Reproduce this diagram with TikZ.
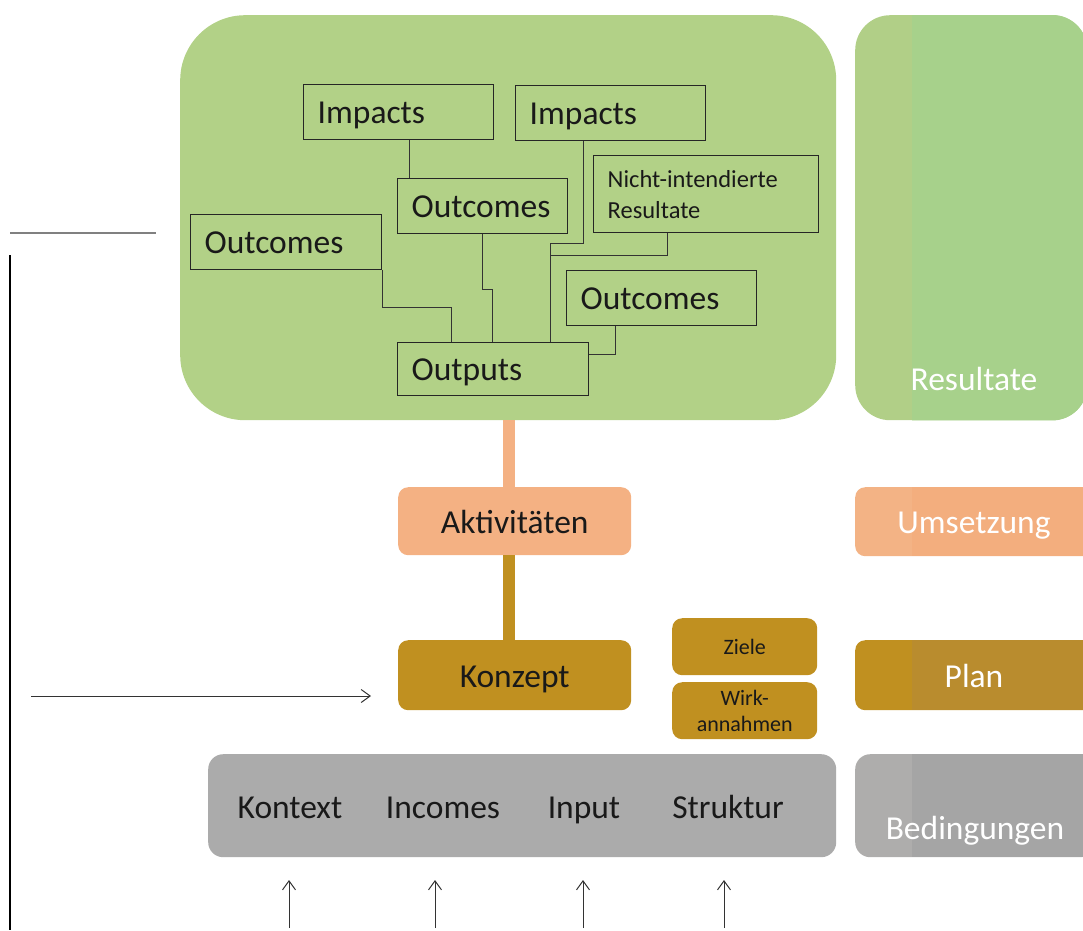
\documentclass[tikz,border=0pt]{standalone}
\usepackage{fontspec}
\setmainfont{Carlito}
\usetikzlibrary{arrows.meta}

\definecolor{gruen}{HTML}{B2D187}
\definecolor{gruenR}{HTML}{A7D18B}
\definecolor{gruenS}{HTML}{B1CF87}
\definecolor{orange}{HTML}{F4B183}
\definecolor{orangeR}{HTML}{F3AE7E}
\definecolor{orangeS}{HTML}{F3B385}
\definecolor{braun}{HTML}{C09020}
\definecolor{braunR}{HTML}{B98C2E}
\definecolor{grau}{HTML}{ABABAB}
\definecolor{grauR}{HTML}{A5A5A5}
\definecolor{grauS}{HTML}{AEADAC}

\begin{document}
\begin{tikzpicture}
        [x=1pt, y=-1pt,
        every node/.style={font=\fontsize{33.5}{40}\selectfont, text=black!90},
        box/.style={draw=black!85, line width=1.4pt, anchor=north west, text width=#1,
          inner xsep=14pt, inner ysep=0pt, align=left, minimum height=55pt,
          text height=26pt, text depth=3pt},
        block/.style={rounded corners=10pt, anchor=north west, inner sep=0pt},
        bigtext/.style={text height=26pt, text depth=2pt},
        small/.style={font=\fontsize{22}{26}\selectfont, align=center},
        lbl/.style={anchor=base},
        white lbl/.style={anchor=base, text=white},
        link/.style={draw=black!80, line width=1pt},
        bar/.style={line width=12pt},
        >={Straight Barb[length=9pt,width=13pt]}]

    \useasboundingbox (0,0) rectangle (1083,930);
    \clip (0,0) rectangle (1083,930);

    % linke Spalte
    \begin{scope}
      \node[block, rounded corners=65pt, fill=gruen, minimum width=656pt,
        minimum height=405pt] (wirk) at (180,15) {};

      \node[box=162pt] (imp1) at (303,84) {Impacts};
      \node[box=162pt] (imp2) at (515,85) {Impacts};
      \node[box=142pt] (ocm) at (397,178) {Outcomes};
      \node[box=197pt, minimum height=77pt, text height=, text depth=,
        font=\fontsize{24.5}{31}\selectfont]
        (nir) at (593,155) {Nicht-intendierte\\Resultate};
      \node[box=163pt] (ocl) at (190,214) {Outcomes};
      \node[box=162pt] (ocr) at (566,270) {Outcomes};
      \node[box=163pt, minimum height=53pt] (out) at (397,342) {Outputs};

      \draw[link] ([xshift=106pt]imp1.south west) -- ([xshift=12pt]ocm.north west);
      \draw[link] ([xshift=85pt]ocm.south west) -- ++(0,55) -| ([xshift=95pt]out.north west);
      \draw[link] (ocl.south east) -- ++(0,37) -| ([xshift=54pt]out.north west);
      \draw[link] ([xshift=68pt]imp2.south west) -- ++(0,102) -| ([xshift=153pt]out.north west);
      \draw[link] ([xshift=74pt]nir.south west) -- ++(0,22) -| ([xshift=153pt]out.north west);
      \draw[link] ([xshift=49pt]ocr.south west) |- ([yshift=15pt]out.east);

      \node[block, bigtext, fill=orange, minimum width=233pt, minimum height=68pt]
        (akt) at (398,487) {Aktivitäten};
      \node[block, bigtext, fill=braun, minimum width=233pt, minimum height=70pt]
        (konz) at (398,640) {Konzept};
      \draw[bar, orange] ([xshift=-6pt]akt.north) -- ([xshift=-6pt]akt.north |- wirk.south);
      \draw[bar, braun] ([xshift=-6pt]konz.north) -- ([xshift=-6pt]akt.south);

      \node[block, small, fill=braun, minimum width=145pt, minimum height=57pt]
        (ziele) at (672,618) {Ziele};
      \node[block, small, fill=braun, minimum width=145pt, minimum height=57pt]
        (wirkan) at (672,682) {Wirk-\\annahmen};

      \node[block, rounded corners=15pt, fill=grau, minimum width=628pt,
        minimum height=103pt] (bed) at (208,754) {};
      \node[lbl] (kontext) at (290,818) {Kontext};
      \node[lbl] (incomes) at (443,818) {Incomes};
      \node[lbl] (input) at (584,818) {Input};
      \node[lbl] (struktur) at (728,818) {Struktur};
    \end{scope}

    % rechte Spalte
    \begin{scope}
      \node[block, rounded corners=35pt, fill=gruenS, minimum width=232pt,
        minimum height=405pt] (res) at (855,15) {};
      \node[block, fill=orangeS, minimum width=240pt, minimum height=69pt] (ums) at (855,487) {};
      \node[block, fill=braun, minimum width=240pt, minimum height=70pt] (plan) at (855,640) {};
      \node[block, rounded corners=15pt, fill=grauS, minimum width=240pt,
        minimum height=103pt] (bedr) at (855,754) {};
      \begin{scope}
        \clip (912,0) rectangle (1083,930);
        \fill[gruenR, rounded corners=35pt] (res.north west) rectangle (res.south east);
        \fill[orangeR] (ums.north west) rectangle (ums.south east);
        \fill[braunR] (plan.north west) rectangle (plan.south east);
        \fill[grauR] (bedr.north west) rectangle (bedr.south east);
      \end{scope}
      \node[white lbl] (resultate) at (974,390) {Resultate};
      \node[white lbl] (umsetzung) at (974,533) {Umsetzung};
      \node[white lbl] (plantext) at (974,687) {Plan};
      \node[white lbl] (bedingungen) at (975,839) {Bedingungen};
    \end{scope}

    % Linien links und Pfeile
    \coordinate (h1) at (10,233);
    \coordinate (h2) at (156,233);
    \coordinate (v1) at (10,255);
    \coordinate (v2) at (10,930);
    \coordinate (p1) at (31,696);
    \coordinate (p2) at (371,696);
    \draw[gray, line width=1.2pt] (h1) -- (h2);
    \draw[black, line width=2pt] (v1) -- (v2);
    \draw[->, black!80, line width=1pt] (p1) -- (p2);

    \foreach \x [count=\i] in {289,435,583,724} {
      \coordinate (q\i) at (\x,928);
      \coordinate (z\i) at (\x,880);
      \draw[->, black!80, line width=1pt] (q\i) -- (z\i);
    }
\end{tikzpicture}
\end{document}
